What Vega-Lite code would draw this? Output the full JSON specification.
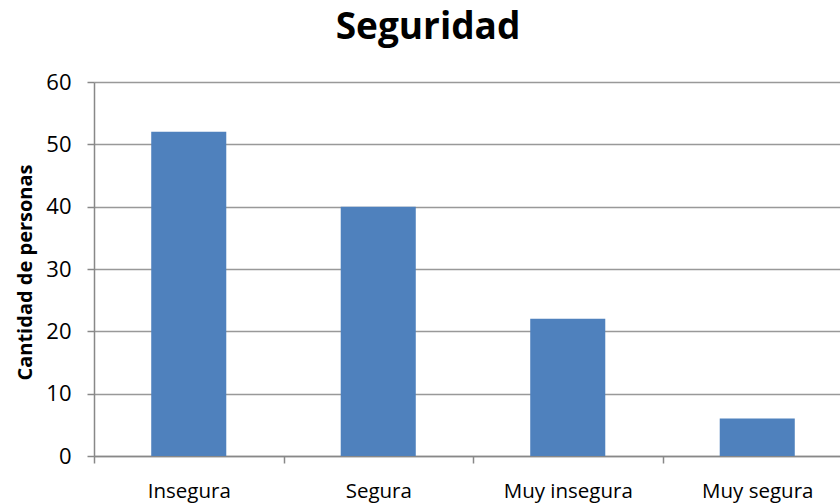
{
  "$schema": "https://vega.github.io/schema/vega-lite/v6.json",
  "autosize": {"type": "none"},
  "width": 746,
  "height": 374,
  "padding": {"left": 94, "top": 82, "right": 0, "bottom": 47},
  "background": "white",
  "title": {
    "text": "Seguridad",
    "font": "Open Sans",
    "fontWeight": "bold",
    "fontSize": 37,
    "color": "#000000",
    "anchor": "middle",
    "dx": -39,
    "offset": 24
  },
  "data": {
    "values": [
      {"categoria": "Insegura", "personas": 52},
      {"categoria": "Segura", "personas": 40},
      {"categoria": "Muy insegura", "personas": 22},
      {"categoria": "Muy segura", "personas": 6}
    ]
  },
  "mark": {"type": "bar", "color": "#4F81BD", "width": {"band": 0.396}},
  "encoding": {
    "x": {
      "field": "categoria",
      "type": "nominal",
      "sort": null,
      "scale": {"range": [0, 758], "paddingInner": 0, "paddingOuter": 0},
      "axis": {
        "title": null,
        "labelAngle": 0,
        "labelFont": "Open Sans",
        "labelFontSize": 20.5,
        "labelColor": "#000000",
        "labelBaseline": "alphabetic",
        "labelPadding": 34,
        "tickBand": "extent",
        "tickSize": 7,
        "tickColor": "#888888",
        "tickWidth": 1.5,
        "domainColor": "#888888",
        "domainWidth": 1.5,
        "grid": false
      }
    },
    "y": {
      "field": "personas",
      "type": "quantitative",
      "scale": {"domain": [0, 60], "nice": false},
      "axis": {
        "title": "Cantidad de personas",
        "titleFont": "Open Sans",
        "titleFontWeight": "bold",
        "titleFontSize": 20,
        "titleColor": "#000000",
        "titleAngle": 270,
        "titleBaseline": "middle",
        "titleX": -69,
        "titleY": 190,
        "titleAlign": "center",
        "values": [0, 10, 20, 30, 40, 50, 60],
        "labelFont": "Open Sans",
        "labelFontSize": 22,
        "labelColor": "#000000",
        "labelPadding": 16,
        "tickSize": 7,
        "tickColor": "#888888",
        "tickWidth": 1.5,
        "domainColor": "#888888",
        "domainWidth": 1.5,
        "grid": true,
        "gridColor": "#999999",
        "gridWidth": 1.5
      }
    }
  },
  "config": {"view": {"stroke": null}}
}
